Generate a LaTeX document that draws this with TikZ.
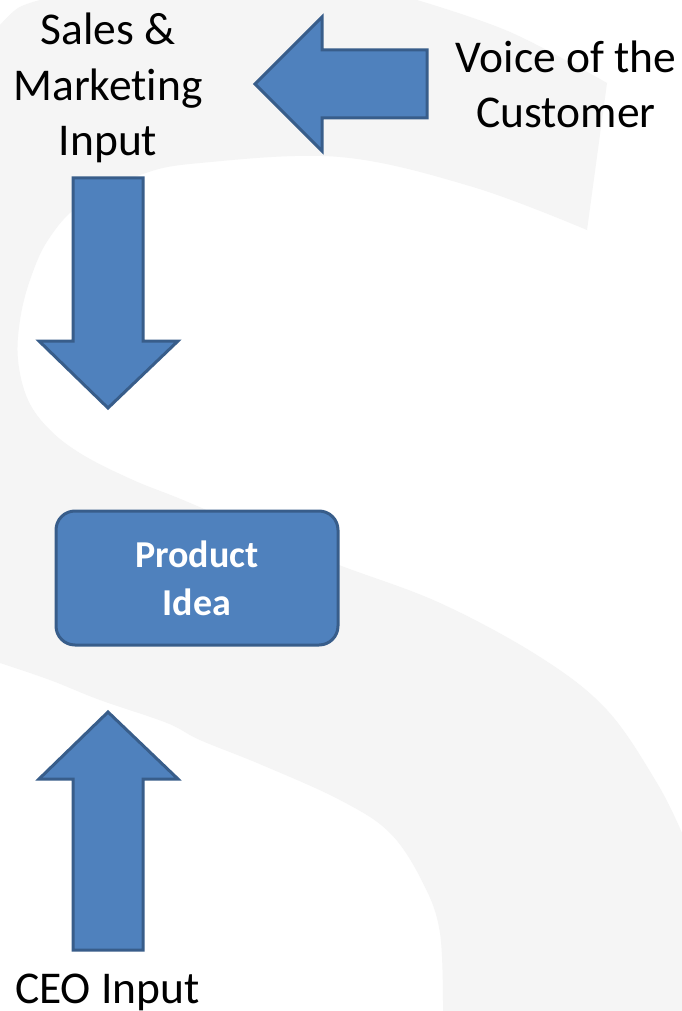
\documentclass[tikz,border=0pt]{standalone}
\usepackage{fontspec}
\setmainfont{Carlito}[Ligatures=NoCommon]
\definecolor{bgS}{RGB}{245,245,245}
\definecolor{boxfill}{RGB}{79,129,189}
\definecolor{boxline}{RGB}{56,93,138}
\tikzset{
  blockarrow/.style={fill=boxfill, draw=boxline, line width=3pt, line join=miter},
  lbl/.style={inner sep=0pt, align=center, font=\fontsize{45.5}{55.5}\selectfont, text=black},
  ideabox/.style={fill=boxfill, draw=boxline, line width=3pt, rounded corners=19pt},
  ideatext/.style={inner sep=0pt, anchor=base, text=white, font=\fontsize{38}{47}\selectfont\bfseries}
}
\begin{document}
\begin{tikzpicture}[x=1pt, y=-1pt]
\useasboundingbox (0,0) rectangle (682,1011);
\fill[white] (0,0) rectangle (682,1011);
% faint background S
\fill[bgS] (0,25)
  -- plot[smooth, tension=0.6] coordinates {(0,25) (18,8) (40,0)}
  -- (417,0)
  -- plot[smooth, tension=0.6] coordinates {(417,0) (510,32) (607,83)}
  -- (587,230)
  -- plot[smooth, tension=0.6] coordinates {(587,230) (473,187) (340,157) (200,163) (140,175) (80,205) (48,240) (30,280) (20,320) (18,360) (28,400) (50,430) (83,455) (133,480) (183,500) (260,533) (339,565) (440,603) (540,657) (607,710) (657,783) (682,833)}
  -- (682,1011) -- (443,1011)
  -- plot[smooth, tension=0.6] coordinates {(443,1011) (440,933) (423,883) (390,833) (340,800) (262,765) (200,740) (167,723) (100,700) (50,680) (0,663)}
  -- cycle;
% product idea box
\node[ideabox, minimum width=282pt, minimum height=134pt, inner sep=0pt] (idea) at (197,578) {};
\node[ideatext] (ideatxt1) at (197,567) {Product};
\node[ideatext] (ideatxt2) at (197,615) {Idea};
% labels (base anchor = baseline of last line)
\node[lbl, anchor=base] (sales) at (108,156) {Sales \&\\Marketing\\Input};
\node[lbl, anchor=base] (voice) at (566,128) {Voice of the\\Customer};
\node[lbl, anchor=base] (ceo) at (107.5,1003) {CEO Input};
% arrows
\draw[blockarrow] (427,50) -- (322,50) -- (322,17) -- (255,84) -- (322,151) -- (322,118) -- (427,118) -- cycle;
\draw[blockarrow] (73,178) -- (143,178) -- (143,341) -- (178,341) -- (108,408) -- (39,341) -- (73,341) -- cycle;
\draw[blockarrow] (73,950) -- (143,950) -- (143,779) -- (178,779) -- (108,712) -- (39,779) -- (73,779) -- cycle;
\end{tikzpicture}
\end{document}
